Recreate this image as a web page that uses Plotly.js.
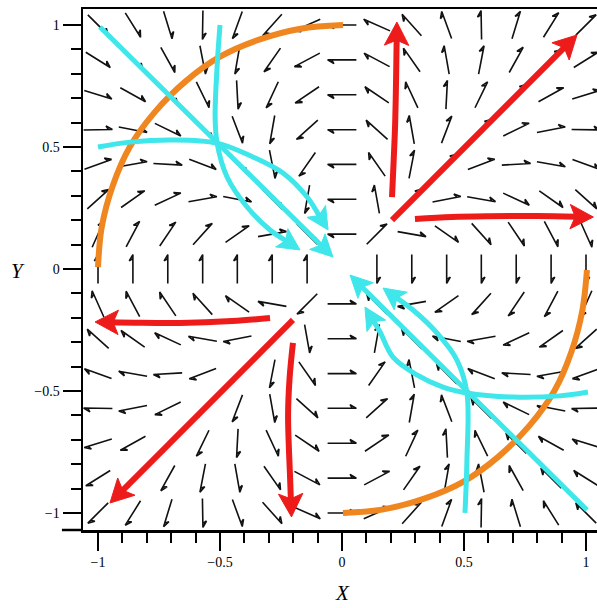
<!DOCTYPE html>
<html>
<head>
<meta charset="utf-8">
<script src="https://cdn.plot.ly/plotly-3.0.1.min.js"></script>
<style>html,body{margin:0;padding:0;background:#fff;}#plot{width:597px;height:608px;}</style>
</head>
<body>
<div id="plot"></div>
<script>
// ---- grid of the direction field (x left->right, y top->bottom)
const gridX = [-1, -0.857, -0.714, -0.571, -0.429, -0.286, -0.143, 0, 0.143, 0.286, 0.429, 0.571, 0.714, 0.857, 1];
const gridY = [1, 0.857, 0.714, 0.571, 0.429, 0.286, 0.143, 0, -0.143, -0.286, -0.429, -0.571, -0.714, -0.857, -1];
// arrow direction (degrees, counter-clockwise from +x) read at each grid node
const fieldAngles = [
  [-45,-58,-73,-91,-110,-132,-156,180,156,132,110,91,73,58,45],
  [-32,-45,-61,-79,-100,-125,-152,180,152,125,100,79,61,45,32],
  [-17,-29,-45,-64,-87,-115,-146,180,146,115,87,64,45,29,17],
  [1,-11,-26,-45,-69,-100,-138,180,138,100,69,45,26,11,-1],
  [20,10,-3,-21,-45,-79,-125,180,125,79,45,21,3,-10,-20],
  [42,35,25,10,-11,-45,-100,180,100,45,11,-10,-25,-35,-42],
  [66,62,56,48,35,10,-45,180,45,-10,-35,-48,-56,-62,-66],
  [90,90,90,90,90,90,90,null,-90,-90,-90,-90,-90,-90,-90],
  [114,118,124,132,145,170,-135,0,135,-170,-145,-132,-124,-118,-114],
  [138,145,155,170,-169,-135,-80,0,80,135,169,-170,-155,-145,-138],
  [160,170,-177,-159,-135,-101,-55,0,55,101,135,159,177,-170,-160],
  [179,-169,-154,-135,-111,-80,-42,0,42,80,111,135,154,169,-179],
  [-163,-151,-135,-116,-93,-65,-34,0,34,65,93,116,135,151,163],
  [-148,-135,-119,-101,-80,-55,-28,0,28,55,80,101,119,135,148],
  [-135,-122,-107,-89,-70,-48,-24,0,24,48,70,89,107,122,135]
];

// ---- thick red trajectories (last point = arrow tip)
const redQ1UpX = [0.205, 0.212, 0.218, 0.222, 0.225];
const redQ1UpY = [0.295, 0.45, 0.6, 0.8, 1.012];
const redQ1DiagX = [0.205, 0.963];
const redQ1DiagY = [0.200, 0.959];
const redQ1RightX = [0.299, 0.45, 0.6, 0.8, 1.03];
const redQ1RightY = [0.205, 0.213, 0.216, 0.217, 0.213];
const redQ3LeftX = [-0.295, -0.45, -0.664, -0.85, -1.012];
const redQ3LeftY = [-0.201, -0.213, -0.221, -0.22, -0.217];
const redQ3DiagX = [-0.201, -0.951];
const redQ3DiagY = [-0.209, -0.959];
const redQ3DownX = [-0.201, -0.215, -0.221, -0.213, -0.207];
const redQ3DownY = [-0.303, -0.45, -0.6, -0.85, -1.016];

// ---- thick cyan trajectories
const cyanQ2DiagX = [-0.992, -0.037];
const cyanQ2DiagY = [0.992, 0.049];
const cyanQ2TopX = [-0.5, -0.512, -0.520, -0.512, -0.471, -0.389, -0.295, -0.172];
const cyanQ2TopY = [1.0, 0.828, 0.623, 0.516, 0.377, 0.254, 0.160, 0.078];
const cyanQ2LeftX = [-1.0, -0.869, -0.693, -0.512, -0.365, -0.242, -0.143, -0.057];
const cyanQ2LeftY = [0.5, 0.520, 0.529, 0.516, 0.459, 0.393, 0.295, 0.160];
const cyanQ4DiagX = [1.004, 0.033];
const cyanQ4DiagY = [-0.988, -0.025];
const cyanQ4BotX = [0.504, 0.512, 0.512, 0.471, 0.389, 0.291, 0.168];
const cyanQ4BotY = [-1.0, -0.783, -0.508, -0.373, -0.262, -0.168, -0.078];
const cyanQ4RightX = [1.008, 0.893, 0.70, 0.512, 0.414, 0.307, 0.209, 0.156, 0.094];
const cyanQ4RightY = [-0.504, -0.520, -0.525, -0.508, -0.484, -0.434, -0.361, -0.258, -0.156];

// ---- orange arcs
const orangeQ2X = [-1.0, -0.985, -0.94, -0.87, -0.77, -0.64, -0.5, -0.34, -0.17, 0.004];
const orangeQ2Y = [0.008, 0.17, 0.34, 0.5, 0.64, 0.77, 0.87, 0.94, 0.985, 1.0];
const orangeQ4X = [0.004, 0.17, 0.34, 0.5, 0.64, 0.77, 0.87, 0.94, 0.985, 1.004];
const orangeQ4Y = [-1.0, -0.985, -0.94, -0.87, -0.77, -0.64, -0.5, -0.34, -0.17, -0.004];

// ---- ticks
const majorTicks = [-1, -0.5, 0, 0.5, 1];
const majorText = ['\u22121', '\u22120.5', '0', '0.5', '1'];
const minorTicks = [-0.9,-0.8,-0.7,-0.6,-0.4,-0.3,-0.2,-0.1,0.1,0.2,0.3,0.4,0.6,0.7,0.8,0.9];

const RED = '#ee1b1b', CYAN = '#3fe6ea', ORANGE = '#f0861f';

// build the slim field arrows
const fx = [], fy = [];
const L = 0.118, barb = 0.03, barbAng = 150 * Math.PI / 180;
for (let r = 0; r < gridY.length; r++) {
  for (let c = 0; c < gridX.length; c++) {
    const a = fieldAngles[r][c];
    if (a === null) continue;
    const t = a * Math.PI / 180;
    const ux = Math.cos(t), uy = Math.sin(t);
    const x0 = gridX[c] - ux * L / 2, y0 = gridY[r] - uy * L / 2;
    const x1 = gridX[c] + ux * L / 2, y1 = gridY[r] + uy * L / 2;
    const bx = x1 + barb * Math.cos(t + barbAng), by = y1 + barb * Math.sin(t + barbAng);
    const sx = x1 - ux * barb * 0.55, sy = y1 - uy * barb * 0.55;
    fx.push(x0, x1, bx, sx, null);
    fy.push(y0, y1, by, sy, null);
  }
}

const traces = [{
  x: fx, y: fy, mode: 'lines', type: 'scatter',
  line: {color: '#111', width: 1.6}, hoverinfo: 'skip', showlegend: false
}];

function plain(xs, ys, color, width) {
  traces.push({x: xs, y: ys, mode: 'lines', type: 'scatter',
    line: {color: color, width: width, shape: 'spline'}, hoverinfo: 'skip', showlegend: false});
}

function headed(xs, ys, color, width, hl, hw) {
  const n = xs.length;
  const tx = xs[n - 1], ty = ys[n - 1];
  let dx = tx - xs[n - 2], dy = ty - ys[n - 2];
  const d = Math.hypot(dx, dy); const ux = dx / d, uy = dy / d;
  const px = -uy, py = ux;
  const bx = tx - hl * ux, by = ty - hl * uy;
  const sx = [], sy = [];
  for (let i = 0; i < n - 1; i++) {
    if (Math.hypot(xs[i] - tx, ys[i] - ty) > hl * 1.05) { sx.push(xs[i]); sy.push(ys[i]); }
  }
  sx.push(bx + 0.3 * hl * ux); sy.push(by + 0.3 * hl * uy);
  traces.push({x: sx, y: sy, mode: 'lines', type: 'scatter',
    line: {color: color, width: width, shape: 'spline'}, hoverinfo: 'skip', showlegend: false});
  traces.push({
    x: [tx, bx + hw * px, bx + 0.22 * hl * ux, bx - hw * px, tx],
    y: [ty, by + hw * py, by + 0.22 * hl * uy, by - hw * py, ty],
    mode: 'lines', type: 'scatter', fill: 'toself', fillcolor: color,
    line: {color: color, width: 1}, hoverinfo: 'skip', showlegend: false});
}

plain(orangeQ2X, orangeQ2Y, ORANGE, 6);
plain(orangeQ4X, orangeQ4Y, ORANGE, 6);

headed(cyanQ2DiagX, cyanQ2DiagY, CYAN, 5, 0.09, 0.045);
headed(cyanQ2TopX, cyanQ2TopY, CYAN, 5, 0.09, 0.045);
headed(cyanQ2LeftX, cyanQ2LeftY, CYAN, 5, 0.09, 0.045);
headed(cyanQ4DiagX, cyanQ4DiagY, CYAN, 5, 0.09, 0.045);
headed(cyanQ4BotX, cyanQ4BotY, CYAN, 5, 0.09, 0.045);
headed(cyanQ4RightX, cyanQ4RightY, CYAN, 5, 0.09, 0.045);

headed(redQ1UpX, redQ1UpY, RED, 6, 0.095, 0.05);
headed(redQ1DiagX, redQ1DiagY, RED, 6, 0.095, 0.05);
headed(redQ1RightX, redQ1RightY, RED, 6, 0.095, 0.05);
headed(redQ3LeftX, redQ3LeftY, RED, 6, 0.095, 0.05);
headed(redQ3DiagX, redQ3DiagY, RED, 6, 0.095, 0.05);
headed(redQ3DownX, redQ3DownY, RED, 6, 0.095, 0.05);

const tickFont = {family: 'Liberation Serif, Times New Roman, serif', size: 14, color: '#000'};
const axisCommon = {
  showgrid: false, zeroline: false, showline: true, linecolor: '#000', linewidth: 2.5,
  ticks: 'outside', tickcolor: '#000', tickwidth: 2, ticklen: 18,
  tickmode: 'array', tickvals: majorTicks, ticktext: majorText, tickfont: tickFont,
  minor: {tickmode: 'array', tickvals: minorTicks, ticks: 'outside', ticklen: 10, tickwidth: 2, tickcolor: '#000', showgrid: false}
};

const layout = {
  width: 597, height: 608,
  margin: {l: 83, r: 0, t: 9, b: 78},
  paper_bgcolor: '#fff', plot_bgcolor: '#fff',
  showlegend: false,
  xaxis: Object.assign({}, axisCommon, {range: [-1.0615, 1.0451], mirror: true}),
  yaxis: Object.assign({}, axisCommon, {range: [-1.0697, 1.0656], mirror: false}),
  shapes: [{type: 'line', xref: 'paper', yref: 'paper', x0: -0.041, x1: 0, y0: 0, y1: 0,
    line: {color: '#000', width: 2.5}}],
  annotations: [
    {text: '<i>X</i>', xref: 'paper', yref: 'paper', x: 0.5039, y: -0.121, showarrow: false,
      xanchor: 'center', yanchor: 'middle', font: {family: 'Liberation Serif, serif', size: 21, color: '#000'}},
    {text: '<i>Y</i>', xref: 'paper', yref: 'paper', x: -0.1265, y: 0.497, showarrow: false,
      xanchor: 'center', yanchor: 'middle', font: {family: 'Liberation Serif, serif', size: 21, color: '#000'}}
  ]
};

Plotly.newPlot('plot', traces, layout, {staticPlot: true, displayModeBar: false});
</script>
</body>
</html>
